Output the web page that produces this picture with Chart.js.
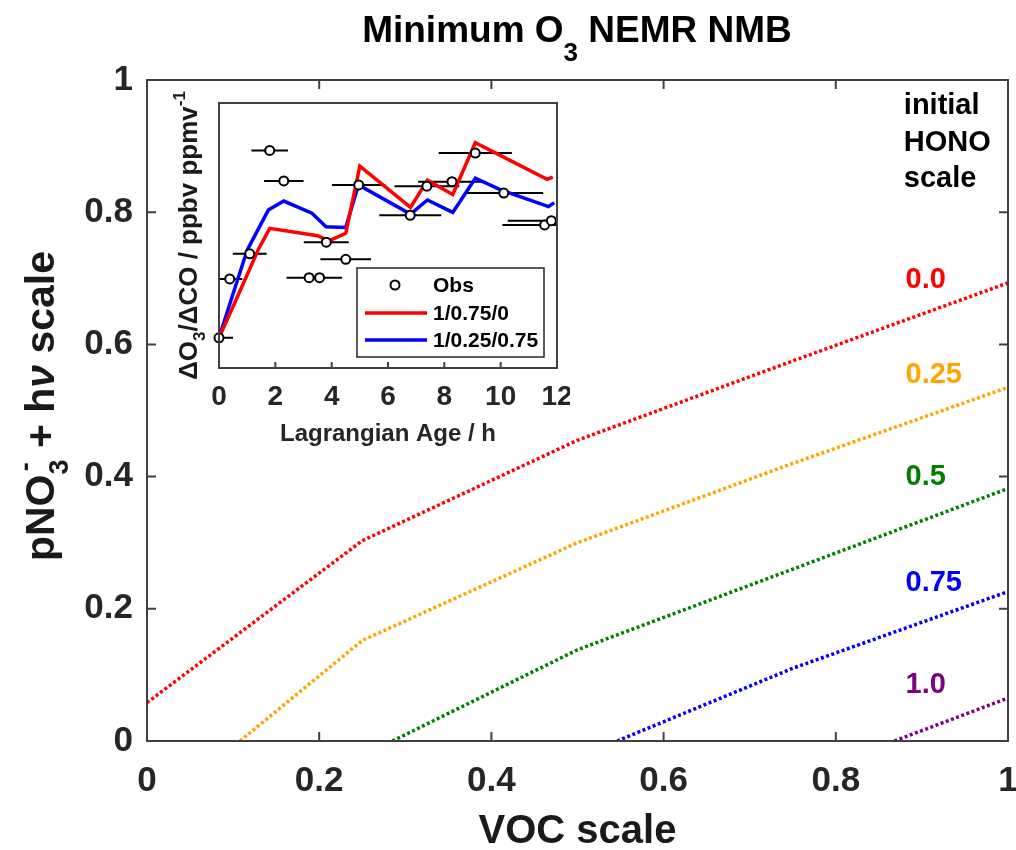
<!DOCTYPE html>
<html><head><meta charset="utf-8">
<script src="https://cdn.jsdelivr.net/npm/chart.js@4.4.1/dist/chart.umd.min.js"></script>
<style>
html,body{margin:0;padding:0;background:#fff;}
#wrap{position:relative;width:1016px;height:850px;overflow:hidden;}
#main{position:absolute;left:0;top:0;}
#inset{position:absolute;left:150px;top:85px;}
</style></head><body>
<div id="wrap">
<canvas id="main" width="1016" height="850" style="width:1016px;height:850px"></canvas>
<canvas id="inset" width="420" height="365" style="width:420px;height:365px"></canvas>
</div>
<script>
// ---------- main chart data (VOC scale vs pNO3- + hv scale contours, per initial HONO scale) ----------
const vocRed = [0, 0.25, 0.5, 0.75, 1];
const pno3Red = [0.058, 0.303, 0.455, 0.575, 0.693];
const vocOrange = [0.108, 0.25, 0.5, 0.75, 1];
const pno3Orange = [0, 0.152, 0.300, 0.420, 0.535];
const vocGreen = [0.285, 0.5, 0.75, 1];
const pno3Green = [0, 0.138, 0.260, 0.382];
const vocBlue = [0.546, 0.75, 1];
const pno3Blue = [0, 0.110, 0.226];
const vocPurple = [0.868, 1];
const pno3Purple = [0, 0.065];
const honoLabels = ['0.0', '0.25', '0.5', '0.75', '1.0'];
const honoHeader = ['initial', 'HONO', 'scale'];
const vocTicks = [0, 0.2, 0.4, 0.6, 0.8, 1];
const vocTickLabels = ['0', '0.2', '0.4', '0.6', '0.8', '1'];
const pno3Ticks = [0, 0.2, 0.4, 0.6, 0.8, 1];
const pno3TickLabels = ['0', '0.2', '0.4', '0.6', '0.8', '1'];

// ---------- inset data (Lagrangian age vs dO3/dCO, relative units) ----------
const ageObs   = [0, 0.38, 1.09, 1.80, 2.30, 3.20, 3.57, 3.81, 4.50, 4.96, 6.79, 7.38, 8.27, 9.10, 10.11, 11.56, 11.80];
const ratioObs = [0.114, 0.336, 0.431, 0.821, 0.706, 0.341, 0.341, 0.475, 0.410, 0.691, 0.576, 0.686, 0.703, 0.811, 0.660, 0.540, 0.556];
const ageErr   = [0.5, 0.45, 0.6, 0.65, 0.7, 0.8, 0.8, 0.8, 0.9, 0.95, 1.1, 1.15, 1.2, 1.3, 1.4, 1.5, 1.55];
const ageRun1  = [0, 0.5, 1.0, 1.4, 1.8, 3.5, 3.9, 4.5, 5.0, 6.8, 7.4, 8.3, 9.1, 11.65, 11.85];
const ratioRun1 = [0.114, 0.232, 0.352, 0.448, 0.527, 0.499, 0.480, 0.508, 0.762, 0.606, 0.709, 0.655, 0.850, 0.712, 0.720];
const ageRun2  = [0, 0.5, 1.0, 1.75, 2.3, 3.3, 3.8, 4.5, 4.95, 6.8, 7.4, 8.3, 9.1, 10.0, 11.7, 11.9];
const ratioRun2 = [0.114, 0.280, 0.445, 0.596, 0.630, 0.584, 0.533, 0.530, 0.691, 0.581, 0.634, 0.587, 0.716, 0.672, 0.609, 0.624];
const insetLabels = ['Obs', '1/0.75/0', '1/0.25/0.75'];
const ageTicks = [0, 2, 4, 6, 8, 10, 12];
const ageTickLabels = ['0', '2', '4', '6', '8', '10', '12'];

const FONT = '"Liberation Sans", Arial, Helvetica, sans-serif';
const pts = (xs, ys) => xs.map((v, i) => ({x: v, y: ys[i]}));

function richText(ctx, segs, x, y, o) {
  ctx.save();
  ctx.translate(x, y);
  if (o.rotate) ctx.rotate(-Math.PI / 2);
  ctx.fillStyle = o.color;
  ctx.textBaseline = 'alphabetic';
  ctx.textAlign = 'left';
  const fontOf = s => `${s.italic ? 'italic ' : ''}${o.weight} ${Math.round(o.size * (s.scale || 1))}px ${FONT}`;
  let total = 0;
  for (const s of segs) { ctx.font = fontOf(s); s._w = ctx.measureText(s.t).width; if (!s.overlay) total += s._w; }
  let cx = o.align === 'center' ? -total / 2 : 0;
  for (const s of segs) {
    ctx.font = fontOf(s);
    ctx.fillText(s.t, cx + (s.dx || 0) * o.size, (s.dy || 0) * o.size);
    if (!s.overlay) cx += s._w;
  }
  ctx.restore();
}

// box + inward ticks
const boxTicks = {
  id: 'boxTicks',
  afterDatasetsDraw(chart, args, o) {
    const {ctx, chartArea: {left, right, top, bottom}, scales: {x, y}} = chart;
    ctx.save();
    ctx.strokeStyle = o.color; ctx.lineWidth = o.width;
    ctx.beginPath();
    ctx.rect(left, top, right - left, bottom - top);
    const L = o.len;
    x.ticks.forEach(t => {
      const px = x.getPixelForValue(t.value);
      ctx.moveTo(px, bottom); ctx.lineTo(px, bottom - L);
      if (o.all) { ctx.moveTo(px, top); ctx.lineTo(px, top + L); }
    });
    if (o.all) y.ticks.forEach(t => {
      const py = y.getPixelForValue(t.value);
      ctx.moveTo(left, py); ctx.lineTo(left + L, py);
      ctx.moveTo(right, py); ctx.lineTo(right - L, py);
    });
    ctx.stroke();
    ctx.restore();
  }
};

const mainTexts = {
  id: 'mainTexts',
  afterDraw(chart) {
    const {ctx, scales: {x, y}} = chart;
    // title
    richText(ctx, [{t: 'Minimum O'}, {t: '3', scale: 0.7, dy: 0.5}, {t: ' NEMR NMB'}], 577, 42,
      {size: 37, weight: 'bold', align: 'center', color: '#000'});
    // y axis title
    richText(ctx, [{t: 'pNO'}, {t: '-', scale: 0.65, dy: -0.5, dx: 0.08, overlay: true}, {t: '3', scale: 0.65, dy: 0.33},
      {t: ' + h'}, {t: 'ν', italic: true}, {t: ' scale'}], 54, 406,
      {size: 41, weight: 'bold', align: 'center', rotate: true, color: '#1a1a1a'});
    // HONO annotations
    ctx.save();
    ctx.textAlign = 'left'; ctx.textBaseline = 'middle';
    ctx.font = `bold 29px ${FONT}`;
    ctx.fillStyle = '#000';
    const hy = [0.960, 0.904, 0.850];
    honoHeader.forEach((t, i) => ctx.fillText(t, x.getPixelForValue(0.879), y.getPixelForValue(hy[i])));
    const ly = [0.697, 0.554, 0.399, 0.239, 0.085];
    honoLabels.forEach((t, i) => {
      ctx.fillStyle = chart.data.datasets[i].borderColor;
      ctx.fillText(t, x.getPixelForValue(0.881), y.getPixelForValue(ly[i]));
    });
    ctx.restore();
  }
};

const mainSeries = [
  {x: vocRed, y: pno3Red, c: '#ff0000'},
  {x: vocOrange, y: pno3Orange, c: '#ffa500'},
  {x: vocGreen, y: pno3Green, c: '#008000'},
  {x: vocBlue, y: pno3Blue, c: '#0000ff'},
  {x: vocPurple, y: pno3Purple, c: '#800080'}
];

new Chart(document.getElementById('main'), {
  type: 'scatter',
  data: {
    datasets: mainSeries.map((s, i) => ({
      label: honoLabels[i], data: pts(s.x, s.y), showLine: true,
      borderColor: s.c, backgroundColor: s.c, borderWidth: 3.5, borderDash: [3, 2.5],
      borderCapStyle: 'butt', pointRadius: 0, tension: 0, fill: false
    }))
  },
  options: {
    responsive: false, animation: false, devicePixelRatio: 1, events: [],
    layout: {padding: {left: 0, right: 8, top: 80, bottom: 0}},
    scales: {
      x: {
        type: 'linear', min: 0, max: 1,
        afterBuildTicks: s => { s.ticks = vocTicks.map(v => ({value: v})); },
        ticks: {callback: (v, i) => vocTickLabels[i], font: {family: FONT, size: 35, weight: 'bold'}, color: '#262626', padding: 19, maxRotation: 0, autoSkip: false},
        grid: {display: false, drawTicks: false}, border: {display: false},
        title: {display: true, text: 'VOC scale', font: {family: FONT, size: 40, weight: 'bold', lineHeight: 0.9}, color: '#1a1a1a', padding: {top: 0, bottom: 0}},
        afterFit: s => { s.height = 109; s.paddingLeft = 0; s.paddingRight = 0; }
      },
      y: {
        type: 'linear', min: 0, max: 1,
        afterBuildTicks: s => { s.ticks = pno3Ticks.map(v => ({value: v})); },
        ticks: {callback: (v, i) => pno3TickLabels[i], font: {family: FONT, size: 35, weight: 'bold'}, color: '#262626', padding: 14, autoSkip: false},
        grid: {display: false, drawTicks: false}, border: {display: false},
        afterFit: s => { s.width = 147; s.paddingTop = 0; s.paddingBottom = 0; }
      }
    },
    plugins: {legend: {display: false}, tooltip: {enabled: false}, title: {display: false},
      boxTicks: {color: '#404040', width: 2, len: 9, all: true}}
  },
  plugins: [boxTicks, mainTexts]
});

// ---------- inset ----------
const errBars = {
  id: 'errBars',
  beforeDatasetsDraw(chart) {
    const {ctx, chartArea: {left, right}, scales: {x, y}} = chart;
    ctx.save();
    ctx.strokeStyle = '#000'; ctx.lineWidth = 2;
    ctx.beginPath();
    ageObs.forEach((a, i) => {
      const x0 = Math.max(left, x.getPixelForValue(a - ageErr[i]));
      const x1 = Math.min(right, x.getPixelForValue(a + ageErr[i]));
      const py = y.getPixelForValue(ratioObs[i]);
      ctx.moveTo(x0, py); ctx.lineTo(x1, py);
    });
    ctx.stroke();
    ctx.restore();
  }
};

const insetDecor = {
  id: 'insetDecor',
  afterDraw(chart) {
    const {ctx, chartArea: {right, bottom, top}} = chart;
    // y title
    richText(ctx, [{t: 'ΔO'}, {t: '3', scale: 0.65, dy: 0.3}, {t: '/ΔCO / ppbv ppmv'}, {t: '-1', scale: 0.65, dy: -0.45}],
      47, (top + bottom) / 2, {size: 26, weight: 'bold', align: 'center', rotate: true, color: '#1a1a1a'});
    // legend
    const bw = 187, bh = 89;
    const bx = right - 13 - bw, by = bottom - 11 - bh;
    ctx.save();
    ctx.fillStyle = '#fff'; ctx.fillRect(bx, by, bw, bh);
    ctx.strokeStyle = '#262626'; ctx.lineWidth = 1.5; ctx.strokeRect(bx, by, bw, bh);
    const ds = chart.data.datasets;
    const rows = [17, 45, 72];
    ctx.font = `bold 21px ${FONT}`; ctx.textBaseline = 'middle'; ctx.textAlign = 'left'; ctx.fillStyle = '#000';
    ds.forEach((d, i) => {
      const ry = by + rows[i];
      if (i === 0) {
        ctx.beginPath(); ctx.arc(bx + 38, ry, d.pointRadius, 0, Math.PI * 2);
        ctx.fillStyle = d.pointBackgroundColor; ctx.fill();
        ctx.lineWidth = d.pointBorderWidth; ctx.strokeStyle = d.pointBorderColor; ctx.stroke();
      } else {
        ctx.beginPath(); ctx.moveTo(bx + 8, ry); ctx.lineTo(bx + 70, ry);
        ctx.lineWidth = d.borderWidth; ctx.strokeStyle = d.borderColor; ctx.stroke();
      }
      ctx.fillStyle = '#000';
      ctx.fillText(d.label, bx + 76, ry + 1);
    });
    ctx.restore();
  }
};

new Chart(document.getElementById('inset'), {
  type: 'scatter',
  data: {
    datasets: [
      {label: insetLabels[0], data: pts(ageObs, ratioObs), showLine: false, pointRadius: 4.5, pointBorderWidth: 2, clip: false,
       pointBorderColor: '#000', pointBackgroundColor: '#fff', borderColor: '#000', backgroundColor: '#fff'},
      {label: insetLabels[1], data: pts(ageRun1, ratioRun1), showLine: true, borderColor: '#ff0000', backgroundColor: '#ff0000',
       borderWidth: 3.5, pointRadius: 0, tension: 0},
      {label: insetLabels[2], data: pts(ageRun2, ratioRun2), showLine: true, borderColor: '#0000ff', backgroundColor: '#0000ff',
       borderWidth: 3.5, pointRadius: 0, tension: 0}
    ]
  },
  options: {
    responsive: false, animation: false, devicePixelRatio: 1, events: [],
    layout: {padding: {left: 0, right: 13, top: 18, bottom: 0}},
    scales: {
      x: {
        type: 'linear', min: 0, max: 12,
        afterBuildTicks: s => { s.ticks = ageTicks.map(v => ({value: v})); },
        ticks: {callback: (v, i) => ageTickLabels[i], font: {family: FONT, size: 28, weight: 'bold'}, color: '#262626', padding: 12, maxRotation: 0, autoSkip: false},
        grid: {display: false, drawTicks: false}, border: {display: false},
        title: {display: true, text: 'Lagrangian Age / h', font: {family: FONT, size: 24, weight: 'bold', lineHeight: 1}, color: '#262626', padding: {top: 0, bottom: 4}},
        afterFit: s => { s.height = 82; s.paddingLeft = 0; s.paddingRight = 0; }
      },
      y: {
        type: 'linear', min: 0, max: 1,
        ticks: {display: false}, grid: {display: false, drawTicks: false}, border: {display: false},
        afterFit: s => { s.width = 69; s.paddingTop = 0; s.paddingBottom = 0; }
      }
    },
    plugins: {legend: {display: false}, tooltip: {enabled: false}, title: {display: false},
      boxTicks: {color: '#404040', width: 2, len: 6, all: false}}
  },
  plugins: [errBars, boxTicks, insetDecor]
});
</script>
</body></html>
